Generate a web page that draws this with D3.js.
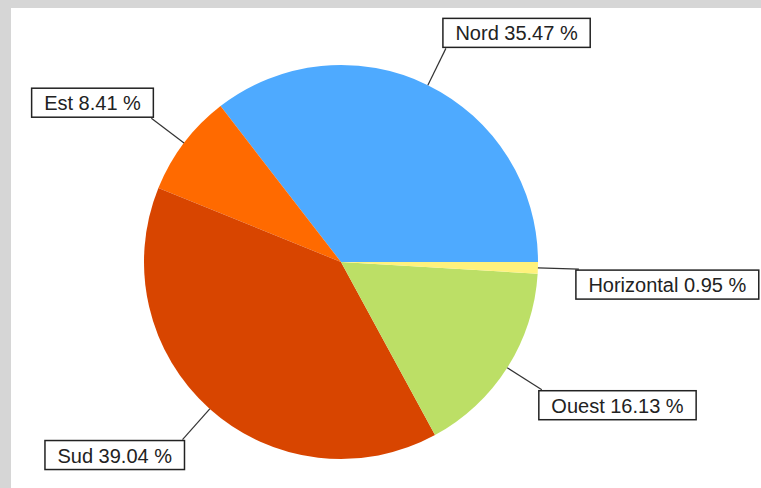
<!DOCTYPE html>
<html>
<head>
<meta charset="utf-8">
<script src="https://cdn.jsdelivr.net/npm/d3@7"></script>
<style>
  html, body { margin: 0; padding: 0; background: #d6d6d6; }
  #chart { position: absolute; left: 11px; top: 8px; width: 750px; height: 480px; background: #fff; }
  text { font-family: "Liberation Sans", Arial, sans-serif; }
</style>
</head>
<body>
<div id="chart"></div>
<script>
const categories = ['Nord', 'Est', 'Sud', 'Ouest', 'Horizontal']
const values = [35.47, 8.41, 39.04, 16.13, 0.95]
const colors = ['#4eaaff', '#ff6a00', '#d84500', '#bcdf66', '#fff27c']

const width = 750
const height = 480
const cx = 330
const cy = 254
const radius = 197

const data = categories.map((c, i) => ({ name: c, value: values[i], color: colors[i] }))

const svg = d3.select('#chart').append('svg')
  .attr('width', width)
  .attr('height', height)

// slices run counter-clockwise from 3 o'clock
const pie = d3.pie()
  .sort(null)
  .value(d => d.value)
  .startAngle(Math.PI / 2)
  .endAngle(Math.PI / 2 - 2 * Math.PI)

const arcs = pie(data)

const arc = d3.arc()
  .innerRadius(0)
  .outerRadius(radius)

const g = svg.append('g')
  .attr('transform', `translate(${cx},${cy})`)

g.selectAll('path.slice')
  .data(arcs)
  .join('path')
  .attr('class', 'slice')
  .attr('fill', d => d.data.color)
  .attr('d', arc)

const fmt = d3.format('.2f')

arcs.forEach(d => {
  const mid = (d.startAngle + d.endAngle) / 2
  const p0 = [Math.sin(mid) * radius, -Math.cos(mid) * radius]
  const p1 = [Math.sin(mid) * (radius + 41), -Math.cos(mid) * (radius + 41)]

  g.append('line')
    .attr('x1', p0[0]).attr('y1', p0[1])
    .attr('x2', p1[0]).attr('y2', p1[1])
    .attr('stroke', '#333')
    .attr('stroke-width', 1.2)

  const label = g.append('g')
  const rect = label.append('rect')
  const txt = label.append('text')
    .attr('font-size', 20)
    .attr('fill', '#222')
    .text(`${d.data.name} ${fmt(d.data.value)} %`)

  const tw = txt.node().getComputedTextLength()
  const bw = tw + 25
  const bh = 29
  const bx = p1[0] >= 0 ? p1[0] - 3 : p1[0] - bw + 2
  const by = p1[1] >= 0 ? p1[1] + 1 : p1[1] - bh - 1

  rect.attr('x', bx).attr('y', by)
    .attr('width', bw).attr('height', bh)
    .attr('fill', '#fff')
    .attr('stroke', '#222')
    .attr('stroke-width', 1.5)

  txt.attr('x', bx + 12.5).attr('y', by + 22)
})
</script>
</body>
</html>
